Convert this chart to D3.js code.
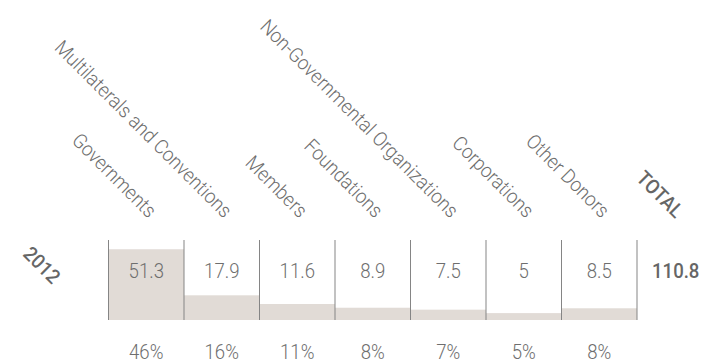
<!DOCTYPE html>
<html>
<head>
<meta charset="utf-8">
<script src="https://cdn.jsdelivr.net/npm/d3@7"></script>
<style>
  html, body { margin: 0; padding: 0; background: #fff; }
  svg { display: block; }
  text { font-family: "Roboto", "Liberation Sans", sans-serif; fill: #6e6e6e; font-weight: 300; }
  text.strong { font-weight: 500; fill: #666; }
</style>
</head>
<body>
<svg id="chart" width="715" height="363"></svg>
<script>
// Funding by donor type, 2012 (values in millions)
const categories = ["Governments", "Multilaterals and Conventions", "Members", "Foundations",
                    "Non-Governmental Organizations", "Corporations", "Other Donors"];
const values = [51.3, 17.9, 11.6, 8.9, 7.5, 5, 8.5];
const shareLabels = ["46%", "16%", "11%", "8%", "7%", "5%", "8%"];
const year = "2012";
const totalLabel = "TOTAL";
const totalValue = 110.8;

const svg = d3.select("#chart");
const squeeze = 0.93; // narrow the glyphs a little

const cellTop = 240, cellBottom = 320;
const x = d3.scaleBand().domain(categories).range([108.5, 637]).padding(0);
const h = d3.scaleLinear().domain([0, 58]).range([0, cellBottom - cellTop]);
const cx = d => x(d) + x.bandwidth() / 2;

// Bars anchored to the bottom of each cell
svg.append("g").selectAll("rect")
  .data(categories)
  .join("rect")
  .attr("x", d => x(d))
  .attr("width", x.bandwidth())
  .attr("y", (d, i) => cellBottom - h(values[i]))
  .attr("height", (d, i) => h(values[i]))
  .attr("fill", "#e1dbd6");

// Cell dividers
const edges = categories.map(d => x(d)).concat([x(categories[categories.length - 1]) + x.bandwidth()]);
svg.append("g").selectAll("line")
  .data(edges)
  .join("line")
  .attr("x1", d => d).attr("x2", d => d)
  .attr("y1", cellTop).attr("y2", cellBottom)
  .attr("stroke", "#858585")
  .attr("stroke-width", 1);

// Values inside the cells
svg.append("g").selectAll("text")
  .data(categories)
  .join("text")
  .attr("text-anchor", "middle")
  .attr("transform", d => `translate(${cx(d)},278) scale(${squeeze},1)`)
  .style("font-size", "20px")
  .text((d, i) => values[i]);

// Share of total under each cell
svg.append("g").selectAll("text")
  .data(categories)
  .join("text")
  .attr("text-anchor", "middle")
  .attr("transform", d => `translate(${cx(d)},358.5) scale(${squeeze},1)`)
  .style("font-size", "20px")
  .text((d, i) => shareLabels[i]);

// Rotated category headers
const headers = categories.concat([totalLabel]);
const headerX = d => d === totalLabel ? 673 : cx(d);
svg.append("g").selectAll("text")
  .data(headers)
  .join("text")
  .attr("class", d => d === totalLabel ? "strong" : null)
  .attr("text-anchor", "end")
  .attr("transform", d => `translate(${headerX(d) + 2},219) rotate(45) scale(${squeeze},1)`)
  .style("font-size", "20px")
  .text(d => d);

// Year label
svg.append("text")
  .attr("class", "strong")
  .attr("text-anchor", "middle")
  .attr("transform", `translate(42,265) rotate(45) scale(${squeeze},1)`)
  .attr("dy", "0.35em")
  .style("font-size", "20px")
  .text(year);

// Total value
svg.append("text")
  .attr("class", "strong")
  .attr("transform", `translate(652,278) scale(${squeeze},1)`)
  .style("font-size", "20px")
  .text(totalValue);
</script>
</body>
</html>
